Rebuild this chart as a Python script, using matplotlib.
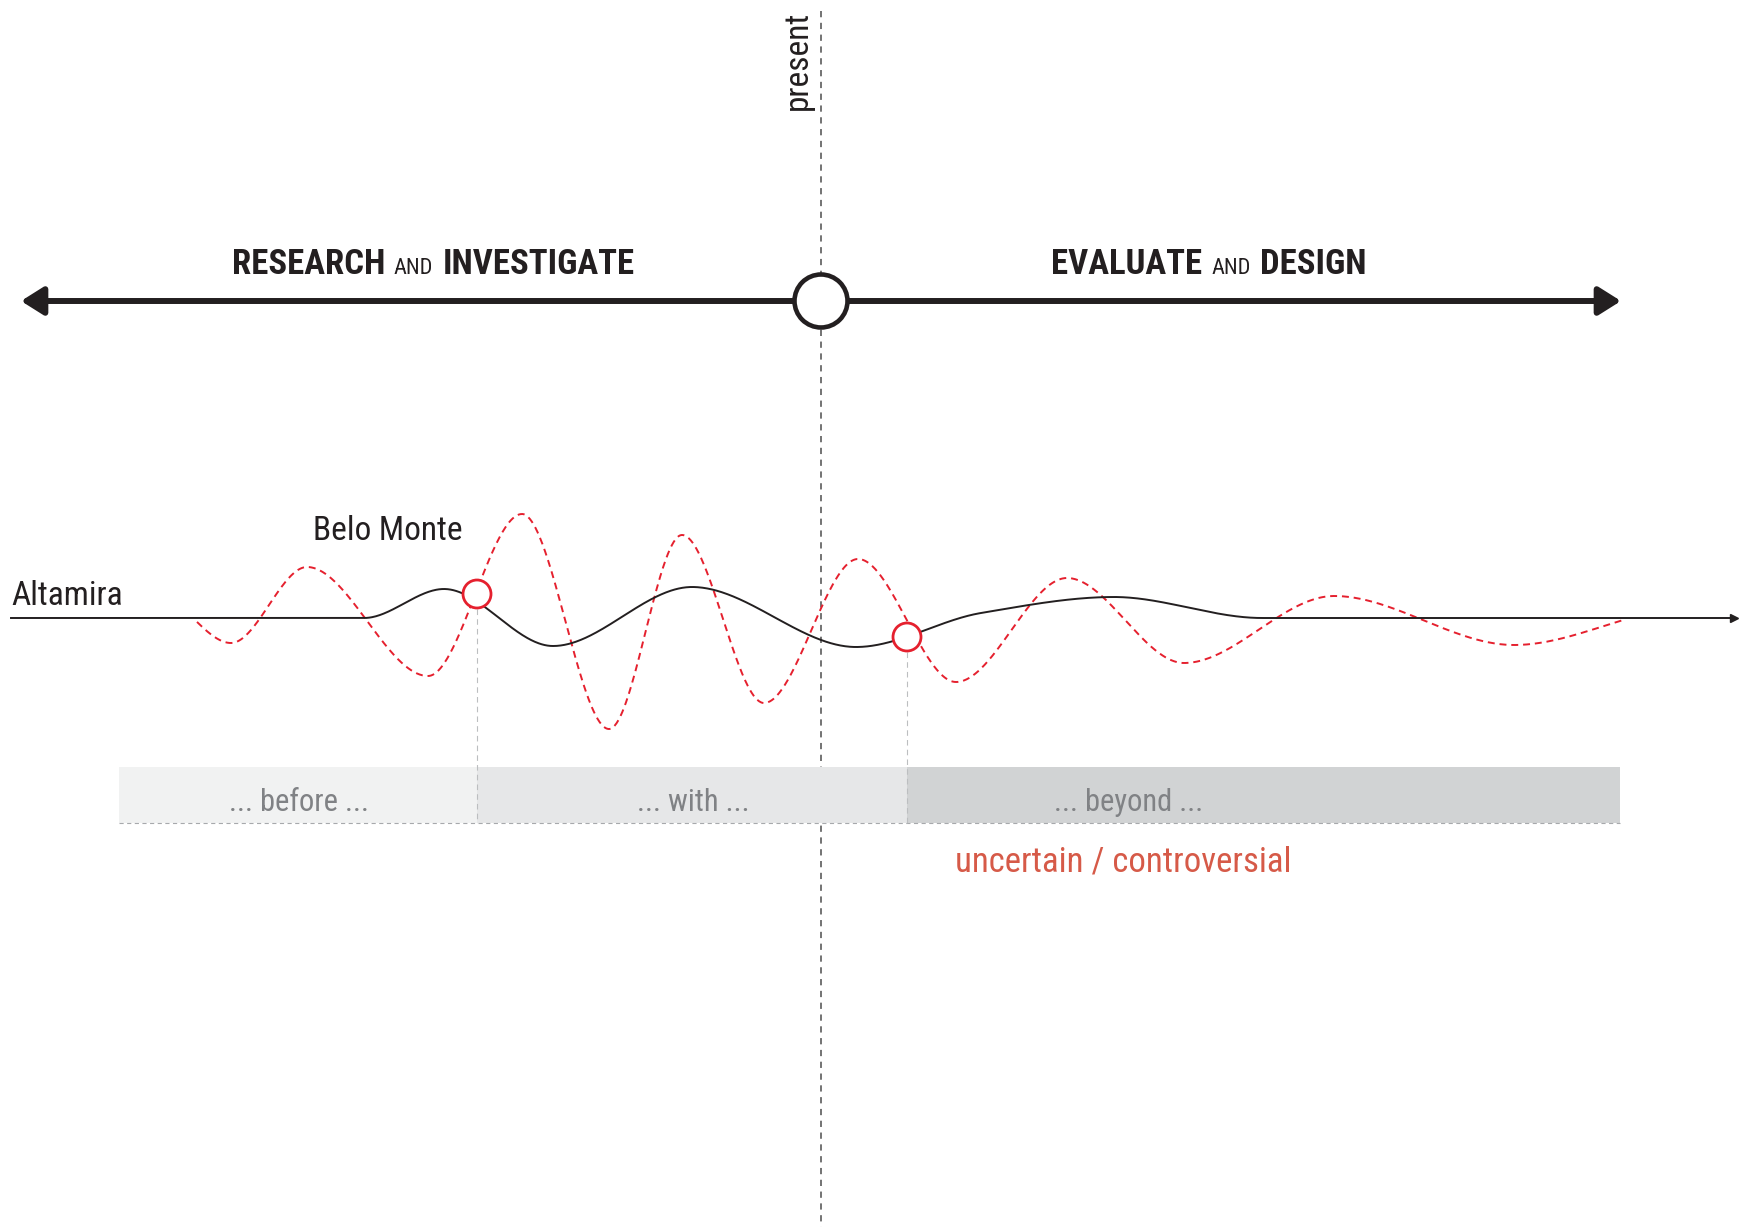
import numpy as np
import matplotlib
matplotlib.use("Agg")
import matplotlib.pyplot as plt
from matplotlib import font_manager as fm
from matplotlib.patches import Circle, Rectangle

# canvas is laid out in pixels, y measured upward from the Altamira baseline
W, H = 1740, 1227
BASE = 618  # pixel row of the baseline, counted from the top

# dashed "uncertain" line (red): turning points, x and height above baseline
RED_X = [155, 231, 307, 428, 522, 609, 682, 764, 858, 956, 1067, 1184, 1334, 1514, 1694]
RED_Y = [25, -25, 51, -58, 104, -111, 83, -85, 59, -64, 40, -45, 22, -27, 11]
RED_RANGE = (197, 1623)

# solid Altamira line (black)
BLACK_X = [11, 364, 444, 553, 692, 856, 981, 1114, 1262, 1734]
BLACK_Y = [0, 0, 29, -28, 31, -29, 5, 21, 0, 0]

# crossings marked with red rings
EVENT_X = [477, 907]
EVENT_Y = [24, -19]

PRESENT_X = 821
TIMELINE_Y = BASE - 301
TIMELINE_ENDS = (21, 1621)

PHASE_LABELS = ["... before ...", "... with ...", "... beyond ..."]
PHASE_EDGES = [119, 477, 907, 1620]
PHASE_COLORS = ["#f1f2f2", "#e6e7e8", "#d1d3d4"]
PHASE_TOP, PHASE_BOTTOM = BASE - 767, BASE - 823

DARK = "#231f20"
RED = "#e5202e"


def pick_font(wanted):
    names = {f.name for f in fm.fontManager.ttflist}
    for n in wanted:
        if n in names:
            return n
    return "DejaVu Sans"


COND = pick_font(["Liberation Sans Narrow", "DejaVu Sans Condensed",
                  "Roboto Condensed", "Open Sans Condensed", "Liberation Sans"])
plt.rcParams["font.family"] = [COND, "DejaVu Sans"]
plt.rcParams["lines.scale_dashes"] = False


# monotone cubic through the turning points (flat at extrema)
def pchip(x, y, xs):
    x = np.asarray(x, float)
    y = np.asarray(y, float)
    h = np.diff(x)
    d = np.diff(y) / h
    m = np.zeros_like(y)
    for k in range(1, len(x) - 1):
        if d[k - 1] * d[k] > 0:
            w1 = 2 * h[k] + h[k - 1]
            w2 = h[k] + 2 * h[k - 1]
            m[k] = (w1 + w2) / (w1 / d[k - 1] + w2 / d[k])
    idx = np.clip(np.searchsorted(x, xs) - 1, 0, len(x) - 2)
    t = (xs - x[idx]) / h[idx]
    h00 = 2 * t**3 - 3 * t**2 + 1
    h10 = t**3 - 2 * t**2 + t
    h01 = -2 * t**3 + 3 * t**2
    h11 = t**3 - t**2
    return (h00 * y[idx] + h10 * h[idx] * m[idx]
            + h01 * y[idx + 1] + h11 * h[idx] * m[idx + 1])


def centred_words(ax, pieces, cx, y, gap=9):
    r = ax.figure.canvas.get_renderer()
    texts = []
    for word, size, weight in pieces:
        t = ax.text(0, y, word, fontsize=size, fontweight=weight, color=DARK,
                    ha="left", va="baseline")
        texts.append(t)
    widths = [t.get_window_extent(r).width for t in texts]
    total = sum(widths) + gap * (len(texts) - 1)
    x = cx - total / 2
    for t, w in zip(texts, widths):
        t.set_x(x)
        x += w + gap


fig = plt.figure(figsize=(W / 100, H / 100), dpi=100)
ax = fig.add_axes([0, 0, 1, 1])
ax.set_xlim(0, W)
ax.set_ylim(BASE - H, BASE)
ax.axis("off")

# present line
ax.plot([PRESENT_X, PRESENT_X], [BASE - 11, BASE - H], color="#4d4d4d",
        lw=1.1, dashes=(4.5, 4), zorder=1)
ax.text(PRESENT_X - 23, BASE - 60, "present", rotation=90, fontsize=24,
        color=DARK, ha="center", va="center")

# timeline arrow with the present ring
ax.annotate("", xy=(TIMELINE_ENDS[0], TIMELINE_Y), xytext=(TIMELINE_ENDS[1], TIMELINE_Y),
            arrowprops=dict(arrowstyle="<|-|>,head_length=1.35,head_width=0.85",
                            lw=4.3, color=DARK, shrinkA=0, shrinkB=0), zorder=3)
ax.add_patch(Circle((PRESENT_X, TIMELINE_Y), 26.5, fc="white", ec=DARK, lw=3.3, zorder=4))

centred_words(ax, [("RESEARCH", 25, "bold"), ("AND", 16, "normal"),
                   ("INVESTIGATE", 25, "bold")], 433, BASE - 274)
centred_words(ax, [("EVALUATE", 25, "bold"), ("AND", 16, "normal"),
                   ("DESIGN", 25, "bold")], 1209, BASE - 274)

# phase band
for (x0, x1), c, lab in zip(zip(PHASE_EDGES[:-1], PHASE_EDGES[1:]), PHASE_COLORS, PHASE_LABELS):
    ax.add_patch(Rectangle((x0, PHASE_BOTTOM), x1 - x0, PHASE_TOP - PHASE_BOTTOM,
                           fc=c, ec="none", zorder=2))
    ax.text((x0 + x1) / 2 + (1 if lab != PHASE_LABELS[2] else -135), BASE - 811, lab,
            fontsize=22, color="#808285", ha="center", va="baseline", zorder=3)
ax.plot([PHASE_EDGES[0], PHASE_EDGES[-1]], [PHASE_BOTTOM, PHASE_BOTTOM], color="#a7a9ac",
        lw=0.8, dashes=(3, 2.5), zorder=3)
ax.text(1123, BASE - 872, "uncertain / controversial", fontsize=25, color="#d65a48",
        ha="center", va="baseline")

# drop lines from the crossings
for ex, ey in zip(EVENT_X, EVENT_Y):
    ax.plot([ex, ex], [ey - 15, PHASE_BOTTOM], color="#bcbec0", lw=0.8,
            dashes=(4, 3), zorder=3)

# curves
xs = np.linspace(RED_RANGE[0], RED_RANGE[1], 1500)
ax.plot(xs, pchip(RED_X, RED_Y, xs), color=RED, lw=1.4, dashes=(5, 3.5), zorder=5)
xb = np.linspace(BLACK_X[0], BLACK_X[-1], 1800)
ax.plot(xb, pchip(BLACK_X, BLACK_Y, xb), color=DARK, lw=1.4, zorder=5)
ax.plot([BLACK_X[-1]], [BLACK_Y[-1]], marker=">", ms=6, color=DARK, zorder=5)

for ex, ey in zip(EVENT_X, EVENT_Y):
    ax.add_patch(Circle((ex, ey), 14, fc="white", ec=RED, lw=2.0, zorder=6))

ax.text(11, BASE - 605, "Altamira", fontsize=24, color=DARK, ha="left", va="baseline")
ax.text(388, BASE - 540, "Belo Monte", fontsize=24, color=DARK, ha="center", va="baseline")

fig.savefig("out.png", dpi=100, facecolor="white")
